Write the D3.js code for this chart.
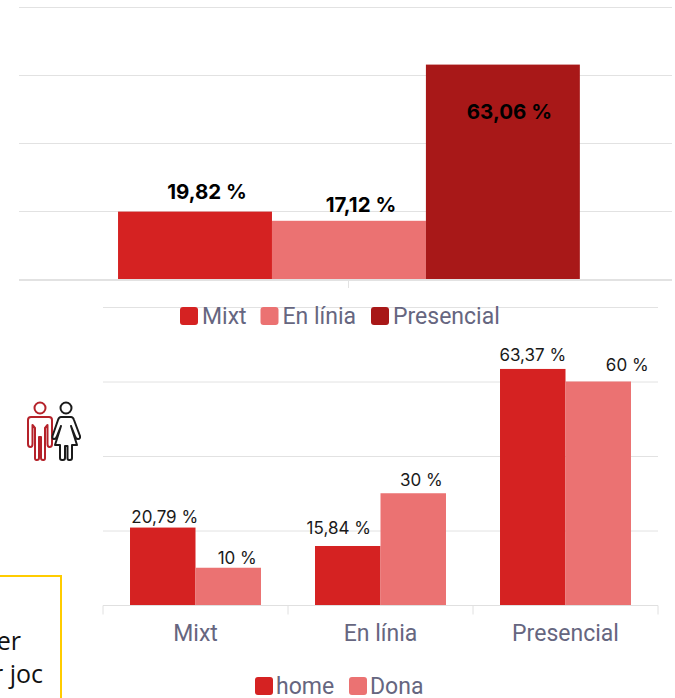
<!DOCTYPE html>
<html>
<head>
<meta charset="utf-8">
<script src="https://cdnjs.cloudflare.com/ajax/libs/d3/7.8.5/d3.min.js"></script>
<style>
  html, body { margin: 0; padding: 0; background: #fff; overflow: hidden; }
  svg { display: block; }
</style>
</head>
<body>
<script>
const topCategories = ['Total']
const topSeries = ['Mixt', 'En línia', 'Presencial']
const topValues = [19.82, 17.12, 63.06]

const bottomCategories = ['Mixt', 'En línia', 'Presencial']
const bottomSeries = ['home', 'Dona']
const homeValues = [20.79, 15.84, 63.37]
const donaValues = [10, 30, 60]

const gridTicks = [0, 20, 40, 60, 80]
const boxLines = ['er', 'r joc']

const red = '#d52222', pink = '#eb7272', dark = '#a81818'
const fmt = v => String(v).replace('.', ',') + ' %'

const svg = d3.select('body').append('svg').attr('width', 675).attr('height', 698)

function grid(g, y, x0, x1) {
  g.call(d3.axisLeft(y).tickValues(gridTicks).tickSize(x0 - x1).tickFormat(''))
    .attr('transform', `translate(${x0},0)`)
  g.select('.domain').remove()
  g.selectAll('line').attr('stroke', '#e2e2e2').attr('stroke-width', 1)
}

function legend(items, colors, xs, yMid, gap) {
  items.forEach((name, i) => {
    svg.append('rect').attr('x', xs[i]).attr('y', yMid - 9).attr('width', 18).attr('height', 18)
      .attr('rx', 3).attr('fill', colors[i])
    svg.append('text').attr('x', xs[i] + gap).attr('y', yMid + 8)
      .attr('font-family', 'Roboto').attr('font-size', 23).attr('fill', '#666680').text(name)
  })
}

// top chart
const yTop = d3.scaleLinear().domain([0, 80]).range([279, 7])
const xTop = d3.scaleBand().domain(topCategories).range([19, 672]).paddingInner(0).paddingOuter(0.207).align(0.518)
const xTopInner = d3.scaleBand().domain(topSeries).range([0, xTop.bandwidth()])
const topColors = [red, pink, dark]

svg.append('g').call(grid, yTop, 19, 672)
svg.append('line').attr('x1', 19).attr('x2', 672).attr('y1', 280.5).attr('y2', 280.5).attr('stroke', '#e2e2e2')
svg.append('line').attr('x1', 348.5).attr('x2', 348.5).attr('y1', 280).attr('y2', 288).attr('stroke', '#e2e2e2')

svg.selectAll('.top-bar').data(topValues).enter().append('rect')
  .attr('class', 'top-bar')
  .attr('x', (d, i) => xTop('Total') + xTopInner(topSeries[i]))
  .attr('y', d => yTop(d))
  .attr('width', xTopInner.bandwidth())
  .attr('height', d => yTop(0) - yTop(d))
  .attr('fill', (d, i) => topColors[i])

const topDx = [12, 12, 6.5], topDy = [-12.6, -9, 54]
svg.selectAll('.top-label').data(topValues).enter().append('text')
  .attr('class', 'top-label')
  .attr('x', (d, i) => xTop('Total') + xTopInner(topSeries[i]) + xTopInner.bandwidth() / 2 + topDx[i])
  .attr('y', (d, i) => yTop(d) + topDy[i])
  .attr('text-anchor', 'middle')
  .attr('font-family', 'Inter').attr('font-weight', 700).attr('font-size', 20.5)
  .attr('fill', '#000')
  .text(fmt)

// bottom chart
const yBot = d3.scaleLinear().domain([0, 80]).range([605, 307])
const xBot = d3.scaleBand().domain(bottomCategories).range([103, 658]).paddingInner(0.292).paddingOuter(0.146)
const xBotInner = d3.scaleBand().domain(bottomSeries).range([0, xBot.bandwidth()])

svg.append('g').call(grid, yBot, 103, 658)
const axisG = svg.append('g').attr('transform', 'translate(0,605.5)')
  .call(d3.axisBottom(xBot).tickSize(0).tickPadding(19))
axisG.select('.domain').attr('stroke', '#e0e0e0').attr('d', 'M103,0H658')
axisG.selectAll('text').attr('font-family', 'Roboto').attr('font-size', 23).attr('fill', '#666680')
// tick marks sit between the categories
const edges = bottomCategories.map(c => xBot(c) - xBot.step() * 0.146).concat([658])
axisG.selectAll('.edge').data(edges).enter().append('line').attr('class', 'edge')
  .attr('x1', d => d).attr('x2', d => d).attr('y1', 0).attr('y2', 9).attr('stroke', '#e0e0e0')

const botSeries = [
  { name: 'home', values: homeValues, color: red, dx: [2, -9, 0], dy: [-1, -12, -8] },
  { name: 'Dona', values: donaValues, color: pink, dx: [9, 8, 29], dy: [-4, -7, -11] }
]
botSeries.forEach(s => {
  const g = svg.append('g')
  g.selectAll('rect').data(s.values).enter().append('rect')
    .attr('x', (d, i) => xBot(bottomCategories[i]) + xBotInner(s.name))
    .attr('y', d => yBot(d))
    .attr('width', xBotInner.bandwidth())
    .attr('height', d => yBot(0) - yBot(d))
    .attr('fill', s.color)
  g.selectAll('text').data(s.values).enter().append('text')
    .attr('x', (d, i) => xBot(bottomCategories[i]) + xBotInner(s.name) + xBotInner.bandwidth() / 2 + s.dx[i])
    .attr('y', (d, i) => yBot(d) + s.dy[i] - (i === 0 && s.name === 'home' ? 4 : 0))
    .attr('text-anchor', 'middle')
    .attr('font-family', 'Inter').attr('font-size', 17).attr('fill', '#1a1a1a')
    .text(fmt)
})

legend(topSeries, topColors, [180, 260.5, 371], 316, 22)
legend(bottomSeries, [red, pink], [255, 349], 686, 21)

// people icon
const person = svg.append('g').attr('fill', 'none').attr('stroke-width', 2).attr('stroke-linejoin', 'round')
const man = person.append('g').attr('stroke', '#b5222a')
man.append('circle').attr('cx', 40).attr('cy', 408).attr('r', 5.5)
man.append('path').attr('d', 'M31,417H49Q52,417 52,420V444Q52,447 49.5,447Q47.5,447 47.5,444V425L45,428V458Q45,460 43.5,460H43Q41,460 41,458V437H39V458Q39,460 37,460H36.5Q35,460 35,458V428L32.5,425V444Q32.5,447 30.5,447Q28,447 28,444V420Q28,417 31,417Z')
const woman = person.append('g').attr('stroke', '#1a1a1a')
woman.append('circle').attr('cx', 66).attr('cy', 408).attr('r', 5.5)
woman.append('path').attr('d', 'M61,417H71Q73,417 74,420L80,436Q80.5,439 78,439Q76,439 75,436L71,426L77,445H72V458Q72,460 70,460H69Q67.5,460 67.5,458V446H65V458Q65,460 63,460H62Q60,460 60,458V445H55L61,426L57,436Q56,439 54,439Q52,439 52.5,436L58,420Q59,417 61,417Z')

// cropped note box
svg.append('rect').attr('x', -20).attr('y', 576).attr('width', 81).attr('height', 140)
  .attr('fill', 'none').attr('stroke', '#ffcc00').attr('stroke-width', 2)
svg.selectAll('.note').data(boxLines).enter().append('text').attr('class', 'note')
  .attr('x', (d, i) => i === 0 ? 21 : 43)
  .attr('y', (d, i) => 650 + i * 33)
  .attr('text-anchor', 'end')
  .attr('font-family', 'Open Sans').attr('font-size', 25).attr('fill', '#111')
  .text(d => d)
</script>
</body>
</html>
